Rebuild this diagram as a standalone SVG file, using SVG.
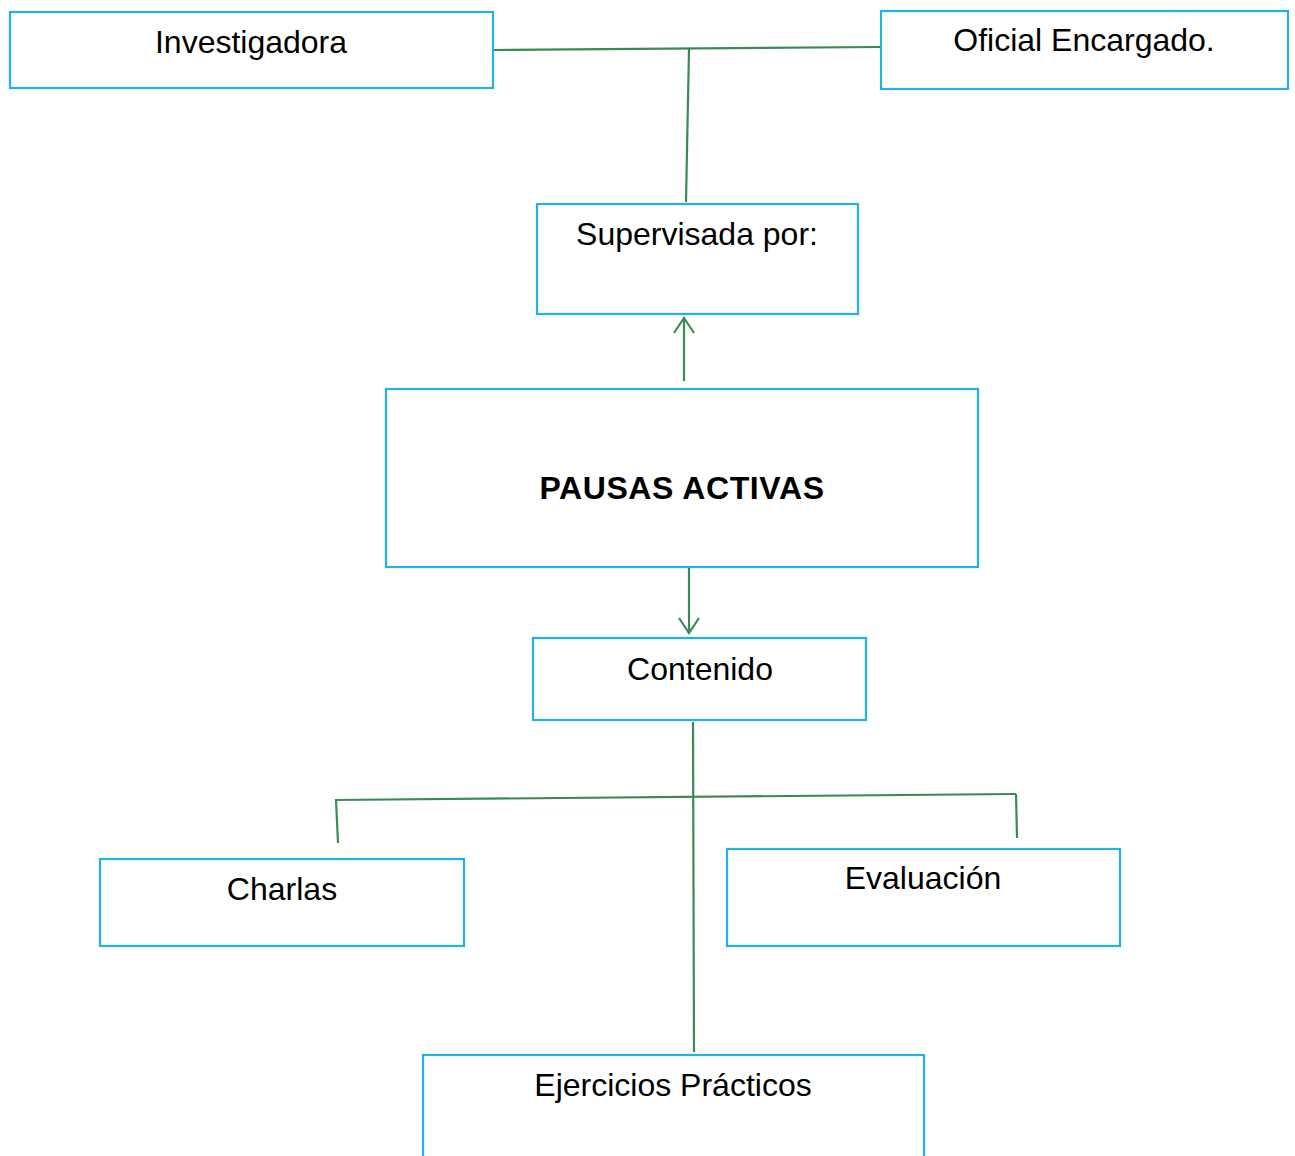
<svg xmlns="http://www.w3.org/2000/svg" width="1295" height="1156" viewBox="0 0 1295 1156">
<style>
.box{fill:#fff;stroke:#22b0e6;stroke-width:2.2}
.t{font-family:"Liberation Sans",Arial,sans-serif;font-size:32px;fill:#000;text-anchor:middle}
.b{font-weight:bold;letter-spacing:0.6px}
.c{stroke:#3b8a55;stroke-width:2.2;fill:none}
</style>
<defs>
<marker id="ah" viewBox="0 0 22 22" refX="20" refY="11" markerWidth="22" markerHeight="22" markerUnits="userSpaceOnUse" orient="auto">
<path d="M5,1 L20,11 L5,21" fill="none" stroke="#3b8a55" stroke-width="2.2"/>
</marker>
</defs>
<rect width="1295" height="1156" fill="#fff"/>
<g id="n-investigadora"><rect class="box" x="10" y="12" width="483" height="76"/><text class="t" x="251" y="53">Investigadora</text></g>
<g id="n-oficial"><rect class="box" x="881" y="11" width="407" height="78"/><text class="t" x="1084" y="51">Oficial Encargado.</text></g>
<g id="n-supervisada"><rect class="box" x="537" y="204" width="321" height="110"/><text class="t" x="697" y="245">Supervisada por:</text></g>
<g id="n-pausas"><rect class="box" x="386" y="389" width="592" height="178"/><text class="t b" x="682" y="499">PAUSAS ACTIVAS</text></g>
<g id="n-contenido"><rect class="box" x="533" y="638" width="333" height="82"/><text class="t" x="700" y="680">Contenido</text></g>
<g id="n-charlas"><rect class="box" x="100" y="859" width="364" height="87"/><text class="t" x="282" y="900">Charlas</text></g>
<g id="n-evaluacion"><rect class="box" x="727" y="849" width="393" height="97"/><text class="t" x="923" y="889">Evaluación</text></g>
<g id="n-ejercicios"><rect class="box" x="423" y="1055" width="501" height="120"/><text class="t" x="673" y="1096">Ejercicios Prácticos</text></g>
<g id="connectors">
<line class="c" x1="494" y1="50" x2="880" y2="47"/>
<line class="c" x1="689" y1="49" x2="686" y2="202"/>
<line class="c" x1="684" y1="381" x2="684" y2="318" marker-end="url(#ah)"/>
<line class="c" x1="689" y1="568" x2="689" y2="633" marker-end="url(#ah)"/>
<line class="c" x1="693" y1="722" x2="694" y2="1052"/>
<line class="c" x1="335" y1="800" x2="1016" y2="794"/>
<line class="c" x1="336" y1="800" x2="338" y2="843"/>
<line class="c" x1="1016" y1="794" x2="1017" y2="838"/>
</g>
</svg>
